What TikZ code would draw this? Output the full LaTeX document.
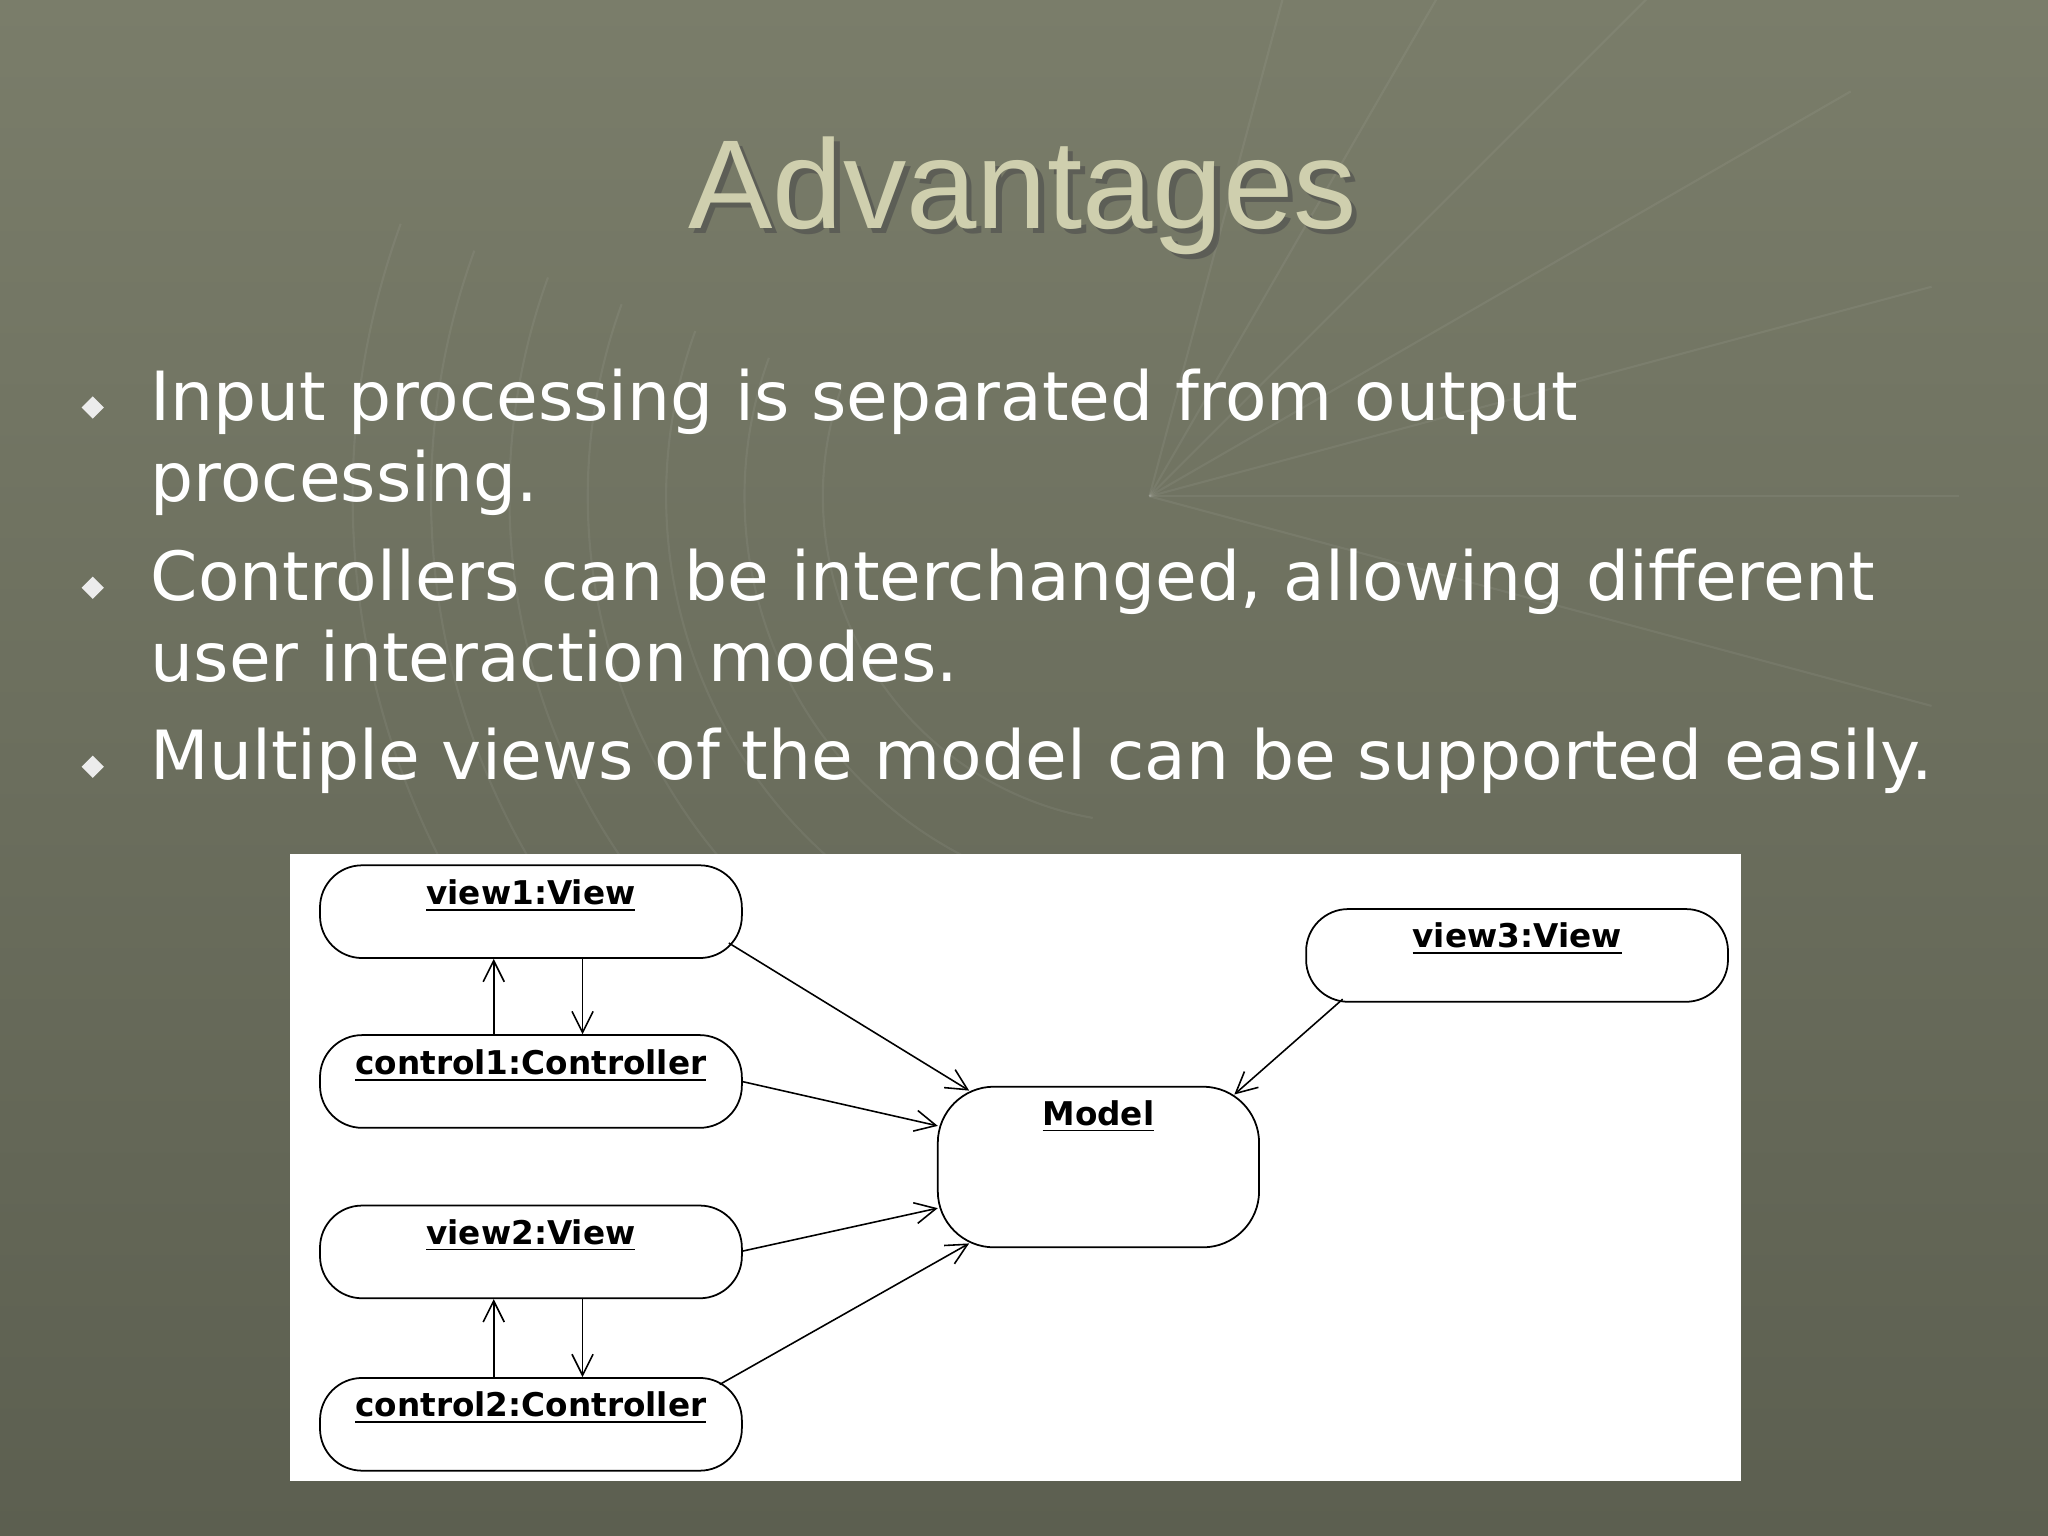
\documentclass[tikz,border=0pt]{standalone}
\usepackage{fontspec}
\setmainfont{DejaVu Sans}
\newfontfamily\titlefont{Liberation Sans}
\usetikzlibrary{arrows.meta}
\definecolor{bgtop}{HTML}{7A7D6A}
\definecolor{bgbot}{HTML}{5C5F50}
\definecolor{titlec}{HTML}{CFCFAE}
\begin{document}
\begin{tikzpicture}[x=0.013061cm,y=-0.013061cm,
  obj/.style={draw=black,line width=0.5pt,rounded corners=12pt,minimum width=323*0.013061cm,minimum height=71*0.013061cm,fill=white},
  lab/.style={font=\bfseries\fontsize{9.3}{10}\selectfont},
  arr/.style={-{Straight Barb[length=6pt,width=6pt]},line width=0.45pt}]
\useasboundingbox (0,0) rectangle (1568,1176);
\shade[top color=bgtop,bottom color=bgbot] (0,0) rectangle (1568,1176);
\begin{scope}[draw=white,opacity=0.06,line width=0.6pt]
\foreach \r in {250,310,370,430,490,550,610}
  \draw (880,380) ++(200:\r) arc (200:100:\r);
\foreach \a in {105,120,135,150,165,180,195}
  \draw (880,380) -- ++(\a:-620);
\end{scope}
\node[font=\titlefont\fontsize{36}{40}\selectfont,text=black!70,opacity=0.6] (tsh) at (787,154) {Advantages};
\node[font=\titlefont\fontsize{36}{40}\selectfont,text=titlec] (title) at (783,150) {Advantages};
\begin{scope}[every node/.style={anchor=base west,text=white,font=\fontsize{19.3}{23}\selectfont}]
\node (b1) at (106,322) {Input processing is separated from output};
\node (b1b) at (106,384) {processing.};
\node (b2) at (106,460) {Controllers can be interchanged, allowing different};
\node (b2b) at (106,522) {user interaction modes.};
\node (b3) at (106,597) {Multiple views of the model can be supported easily.};
\end{scope}
\foreach \y/\n in {312/d1,450/d2,587/d3}
  \node[fill=white!85!gray,inner sep=0pt,minimum size=12*0.013061cm,rotate=45] (\n) at (71,\y) {};
\node[fill=white,draw=none,minimum width=1111*0.013061cm,minimum height=480*0.013061cm,inner sep=0pt] (panel) at (777.5,894) {};
\node[obj] (v1) at (406.5,698) {};
\node[obj] (c1) at (406.5,828) {};
\node[obj] (v2) at (406.5,958.5) {};
\node[obj] (c2) at (406.5,1090.5) {};
\node[obj] (v3) at (1161.5,731.5) {};
\node[obj,minimum width=246*0.013061cm,minimum height=123*0.013061cm,rounded corners=16pt] (m) at (841,893.5) {};
\node[lab] (v1l) at (406.5,686) {\underline{view1:View}};
\node[lab] (c1l) at (406.5,816) {\underline{control1:Controller}};
\node[lab] (v2l) at (406.5,946) {\underline{view2:View}};
\node[lab] (c2l) at (406.5,1078) {\underline{control2:Controller}};
\node[lab] (v3l) at (1161.5,719) {\underline{view3:View}};
\node[lab] (ml) at (841,855) {\underline{Model}};
\draw[arr] (v1.south -| 446,0) -- (c1.north -| 446,0);
\draw[arr] (c1.north -| 378,0) -- (v1.south -| 378,0);
\draw[arr] (v2.south -| 446,0) -- (c2.north -| 446,0);
\draw[arr] (c2.north -| 378,0) -- (v2.south -| 378,0);
\coordinate (a1) at (558,722); \coordinate (a1e) at (742,835);
\coordinate (a2) at (568,828); \coordinate (a2e) at (718,862);
\coordinate (a3) at (568,958); \coordinate (a3e) at (718,925);
\coordinate (a4) at (551,1060); \coordinate (a4e) at (742,952);
\coordinate (a5) at (1028,765); \coordinate (a5e) at (945,838);
\draw[arr] (a1) -- (a1e);
\draw[arr] (a2) -- (a2e);
\draw[arr] (a3) -- (a3e);
\draw[arr] (a4) -- (a4e);
\draw[arr] (a5) -- (a5e);
\end{tikzpicture}
\end{document}
